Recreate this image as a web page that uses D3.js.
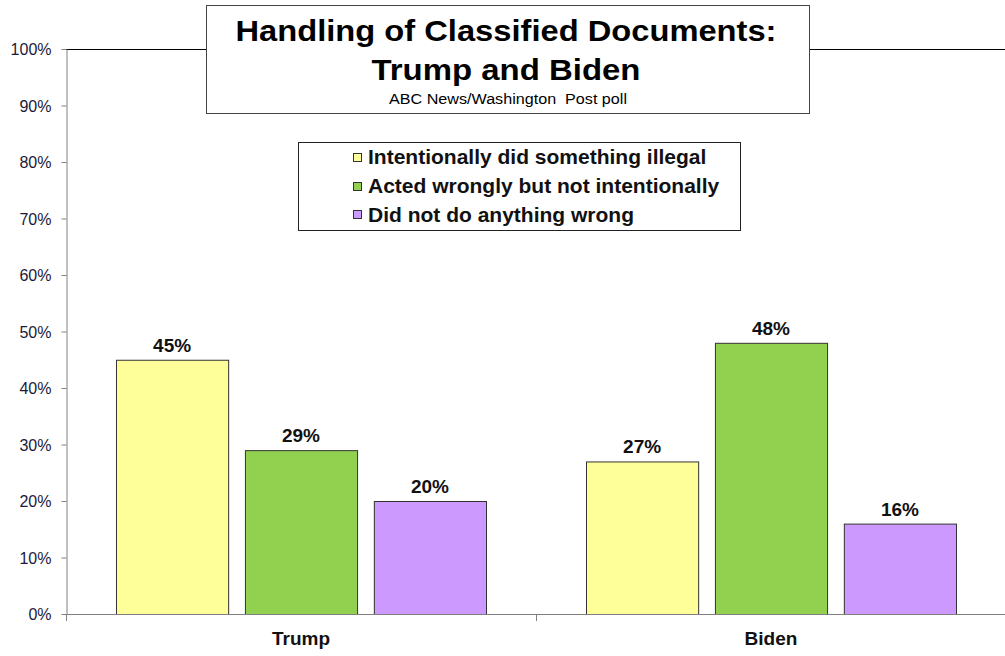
<!DOCTYPE html>
<html><head><meta charset="utf-8">
<script src="https://cdn.jsdelivr.net/npm/d3@7"></script>
<style>body{margin:0;background:#fff}svg{display:block}</style>
</head><body>
<svg id="c" width="1005" height="656"></svg>
<script>
const categories = ["Trump", "Biden"];
const seriesNames = ["Intentionally did something illegal", "Acted wrongly but not intentionally", "Did not do anything wrong"];
const illegal = [45, 27];
const wrongly = [29, 48];
const nothing = [20, 16];
const yTicks = [0,10,20,30,40,50,60,70,80,90,100];
const colors = ["#FFFF99", "#92D050", "#CC99FF"];
const series = [illegal, wrongly, nothing];

const tf = "Arial, 'Liberation Sans', sans-serif";
const svg = d3.select("#c");
const x0 = d3.scaleBand().domain(categories).range([66, 1006]).paddingInner(0).paddingOuter(0);
const y = d3.scaleLinear().domain([0, 100]).range([614, 49]);
const x1 = d3.scaleBand().domain(d3.range(3)).range([50, 470-50]).paddingInner(0.13).paddingOuter(0);

// top plot border
svg.append("line").attr("x1",66).attr("x2",1005).attr("y1",49.5).attr("y2",49.5).attr("stroke","#000").attr("stroke-width",1);

// y axis
const yAxis = d3.axisLeft(y).tickValues(yTicks).tickFormat(d => d + "%").tickSize(5).tickSizeOuter(0);
const gy = svg.append("g").attr("transform","translate(66.5,0)").call(yAxis);
gy.select(".domain").attr("stroke","#808080");
gy.selectAll(".tick line").attr("stroke","#808080");
gy.selectAll(".tick text").attr("font-family",tf).attr("font-size",16).attr("fill","#1a1a3a").attr("x",-15).attr("dy","0.35em");

// bars
categories.forEach((c, ci) => {
  series.forEach((s, si) => {
    const xx = x0(c) + x1(si);
    svg.append("rect").attr("x", xx+0.5).attr("y", y(s[ci])+0.5)
      .attr("width", x1.bandwidth()).attr("height", y(0)-y(s[ci]))
      .attr("fill", colors[si]).attr("stroke","#333").attr("stroke-width",1);
    svg.append("text").attr("x", xx + x1.bandwidth()/2).attr("y", y(s[ci]) - 8)
      .attr("text-anchor","middle").attr("font-family",tf)
      .attr("font-weight","bold").attr("font-size",19).attr("fill","#111").text(s[ci] + "%");
  });
});

// x axis
svg.append("line").attr("x1",66).attr("x2",1005).attr("y1",614.5).attr("y2",614.5).attr("stroke","#808080");
const xAxis = d3.axisBottom(x0).tickSize(0);
const gx = svg.append("g").attr("transform","translate(0,614.5)").call(xAxis);
gx.select(".domain").remove();
gx.selectAll(".tick text").attr("font-family",tf).attr("font-weight","bold")
  .attr("font-size",19).attr("fill","#111").attr("dy",0).attr("y",30.5);
categories.forEach(c => {
  const xx = Math.round(x0(c)) + 0.5;
  svg.append("line").attr("x1",xx).attr("x2",xx).attr("y1",614).attr("y2",621).attr("stroke","#808080");
});

// title box
svg.append("rect").attr("x",206.5).attr("y",5.5).attr("width",603).attr("height",108).attr("fill","#fff").attr("stroke","#444");
svg.append("text").attr("x",506).attr("y",41).attr("text-anchor","middle").attr("font-family",tf).attr("font-weight","bold").attr("font-size",30).attr("fill","#000")
  .attr("textLength",541).attr("lengthAdjust","spacingAndGlyphs").text("Handling of Classified Documents:");
svg.append("text").attr("x",506).attr("y",80).attr("text-anchor","middle").attr("font-family",tf).attr("font-weight","bold").attr("font-size",30).attr("fill","#000")
  .attr("textLength",269).attr("lengthAdjust","spacingAndGlyphs").text("Trump and Biden");
svg.append("text").attr("x",508).attr("y",104).attr("text-anchor","middle").attr("font-family",tf).attr("font-size",14).attr("fill","#000")
  .style("white-space","pre").attr("textLength",238).attr("lengthAdjust","spacingAndGlyphs").text("ABC News/Washington  Post poll");

// legend
svg.append("rect").attr("x",298.5).attr("y",142.5).attr("width",442).attr("height",88).attr("fill","#fff").attr("stroke","#222");
seriesNames.forEach((n, i) => {
  const base = 164.3 + i*28.7;
  svg.append("rect").attr("x",353.5).attr("y",Math.round(base-11.5)+0.5).attr("width",8).attr("height",8).attr("fill",colors[i]).attr("stroke","#333");
  svg.append("text").attr("x",368).attr("y",base).attr("font-family",tf).attr("font-weight","bold").attr("font-size",21).attr("fill","#111").text(n);
});
</script>
</body></html>
